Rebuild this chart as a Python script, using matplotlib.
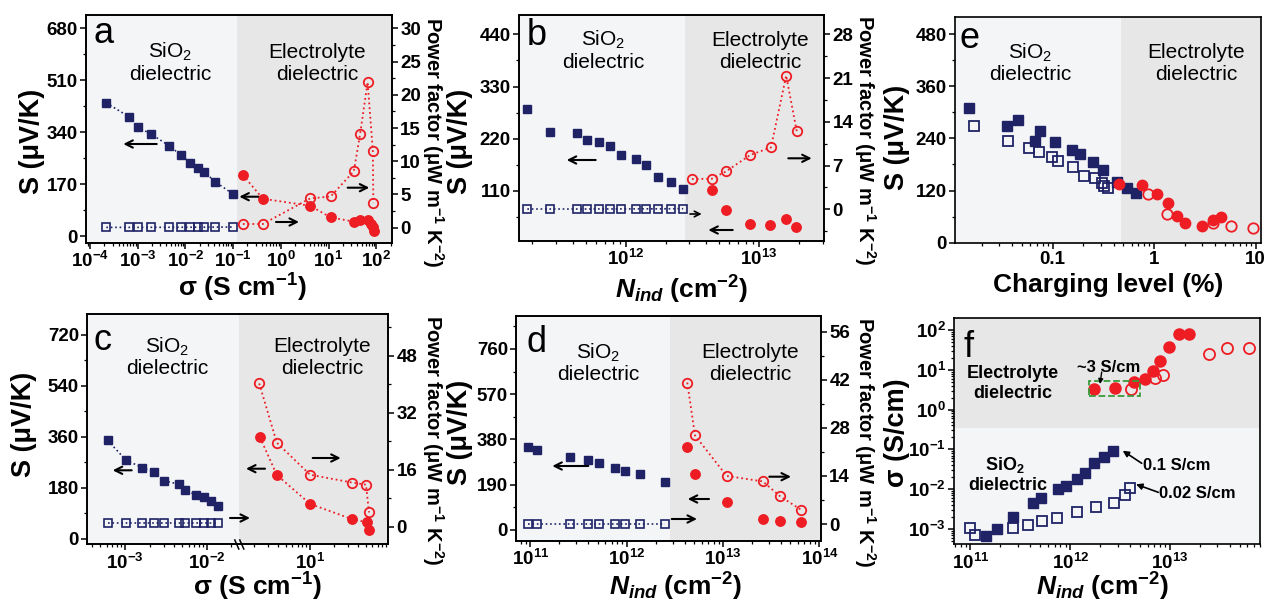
import numpy as np
import matplotlib.pyplot as plt
import matplotlib.ticker as mticker
from matplotlib.patches import Rectangle, FancyArrowPatch
from matplotlib.lines import Line2D

plt.rcParams['font.family'] = ['Liberation Sans', 'DejaVu Sans']
plt.rcParams['font.weight'] = 'bold'
plt.rcParams['axes.labelweight'] = 'bold'
plt.rcParams['mathtext.fontset'] = 'custom'
plt.rcParams['mathtext.rm'] = 'Liberation Sans:bold'
plt.rcParams['mathtext.it'] = 'Liberation Sans:italic:bold'
plt.rcParams['mathtext.default'] = 'regular'
plt.rcParams['axes.linewidth'] = 1.2

# ---- data ----
# (a) S and power factor vs conductivity
a_sq_x = [2.2e-4, 6.6e-4, 1.0e-3, 1.9e-3, 4.5e-3, 8.1e-3, 1.23e-2, 1.8e-2, 2.5e-2, 4.2e-2, 0.10]
a_sq_S = [436, 390, 356, 334, 296, 265, 240, 224, 209, 178, 137]
a_sq_PF = [0.05, 0.05, 0.05, 0.06, 0.06, 0.07, 0.07, 0.08, 0.08, 0.09, 0.10]
a_ci_x = [0.16, 0.42, 4.1, 11.1, 34, 46, 66, 78, 85, 90]
a_ci_S = [200, 122, 99, 61, 47, 52, 52, 39, 28, 17]
a_oc_x = [0.16, 0.42, 4.1, 11.1, 34, 46, 66, 85, 87]
a_oc_PF = [0.56, 0.56, 4.4, 4.7, 8.5, 14.1, 21.9, 11.6, 3.7]

# (b) S and power factor vs induced carrier density
b_sq_x = [1.83e11, 2.70e11, 4.29e11, 5.15e11, 6.34e11, 7.62e11, 9.23e11, 1.19e12, 1.42e12, 1.76e12, 2.19e12, 2.70e12]
b_sq_S = [283, 234, 233, 217, 214, 204, 186, 177, 165, 140, 128, 114]
b_sq_PF = [0.05, 0.05, 0.05, 0.05, 0.06, 0.06, 0.07, 0.07, 0.08, 0.08, 0.09, 0.10]
b_ci_x = [4.44e12, 5.70e12, 8.61e12, 1.22e13, 1.60e13, 1.91e13]
b_ci_S = [113, 71, 40, 39, 52, 34]
b_oc_x = [3.14e12, 4.44e12, 5.69e12, 8.61e12, 1.23e13, 1.60e13, 1.92e13]
b_oc_PF = [4.85, 4.9, 6.1, 8.7, 9.9, 21.4, 12.5]

# (c) second device, vs conductivity (broken axis)
c_sq_x = [6.14e-4, 1.03e-3, 1.63e-3, 2.29e-3, 2.98e-3, 4.62e-3, 5.47e-3, 7.46e-3, 9.27e-3, 1.13e-2, 1.39e-2]
c_sq_S = [347, 277, 251, 235, 205, 192, 171, 154, 146, 134, 117]
c_sq_PF = [0.9, 0.9, 0.9, 0.9, 0.9, 0.9, 0.9, 0.9, 0.9, 0.9, 0.9]
c_ci_x = [2.37, 3.84, 10.0, 33.5, 51.2, 54.7]
c_ci_S = [358, 225, 123, 69, 58, 32]
c_oc_x = [2.32, 3.84, 10.0, 33.2, 50.1, 54.7]
c_oc_PF = [40.2, 23.6, 14.6, 12.4, 11.8, 4.0]

# (d) second device, vs induced carrier density
d_sq_x = [9.35e10, 1.16e11, 2.57e11, 3.98e11, 5.14e11, 7.53e11, 9.51e11, 1.36e12, 2.49e12]
d_sq_S = [349, 335, 307, 293, 282, 261, 248, 233, 202]
d_sq_PF = [0.05, 0.05, 0.05, 0.05, 0.05, 0.05, 0.05, 0.05, 0.05]
d_ci_x = [4.25e12, 5.11e12, 1.09e13, 2.59e13, 3.90e13, 6.49e13]
d_ci_S = [348, 233, 118, 46, 37, 32]
d_oc_PF = [41.2, 25.8, 14.0, 12.4, 8.1, 4.1]

# (e) S vs charging level, both devices
e_sq_x = [0.01503, 0.03565, 0.04571, 0.06683, 0.07534, 0.1059, 0.1567, 0.1866, 0.2489, 0.3162, 0.4295, 0.5383, 0.6607]
e_sq_S = [311, 269, 282, 235, 257, 232, 213, 203, 186, 168, 140, 127, 114]
e_os_x = [0.01687, 0.03622, 0.05834, 0.07311, 0.09954, 0.1125, 0.1603, 0.2042, 0.2606, 0.3055, 0.3192, 0.3548]
e_os_S = [269, 234, 217, 208, 197, 188, 174, 154, 148, 138, 130, 125]
e_ci_x = [0.455, 0.762, 1.072, 1.374, 1.687, 2.004, 2.951, 3.837, 4.571]
e_ci_S = [135, 133, 112, 91, 62, 45, 39, 52, 59]
e_oc_x = [0.873, 1.334, 3.784, 5.702, 9.376]
e_oc_S = [111, 66, 45, 38, 33]

# (f) conductivity vs induced carrier density
f_sq_x = [1.44e11, 1.85e11, 2.65e11, 4.27e11, 5.07e11, 7.52e11, 9.14e11, 1.16e12, 1.40e12, 1.74e12, 2.19e12, 2.67e12]
f_sq_sig = [6.56e-4, 1.01e-3, 1.95e-3, 4.50e-3, 6.11e-3, 1.03e-2, 1.22e-2, 1.84e-2, 2.60e-2, 4.48e-2, 6.56e-2, 9.12e-2]
f_os_x = [9.89e10, 1.10e11, 2.65e11, 3.75e11, 5.18e11, 7.33e11, 1.18e12, 1.80e12, 2.75e12, 3.53e12, 3.95e12]
f_os_sig = [1.07e-3, 6.98e-4, 1.09e-3, 1.26e-3, 1.62e-3, 1.91e-3, 2.67e-3, 3.51e-3, 4.38e-3, 7.03e-3, 1.10e-2]
f_ci_x = [1.75e12, 2.79e12, 4.32e12, 5.62e12, 6.82e12, 8.05e12, 9.79e12, 1.23e13, 1.56e13]
f_ci_sig = [3.35, 3.49, 5.08, 6.04, 9.16, 16.4, 36.7, 79.4, 79.4]
f_oc_x = [4.03e12, 7.02e12, 8.63e12, 2.45e13, 3.70e13, 6.17e13]
f_oc_sig = [3.26, 6.11, 7.62, 25.2, 34.7, 36.3]

NAVY = '#1f2366'
RED = '#ee1d24'
LIGHT = '#f4f5f7'
GRAY = '#e7e7e7'

W, H = 1264, 609
fig = plt.figure(figsize=(W / 100, H / 100), dpi=100)


def fx(x):
    return x / W


def fy(y):
    return 1 - y / H


def add_ax(l, t, r, b):
    return fig.add_axes([l / W, 1 - b / H, (r - l) / W, (b - t) / H])


def style(ax):
    ax.tick_params(which='major', direction='out', length=4, width=1.1, labelsize=13.5, pad=2)
    ax.tick_params(which='minor', direction='out', length=2.2, width=0.9)


def logx(ax, lo, hi):
    ax.set_xscale('log')
    ax.set_xlim(lo, hi)
    ax.xaxis.set_major_locator(mticker.LogLocator(base=10, numticks=20))
    ax.xaxis.set_minor_locator(mticker.LogLocator(base=10, subs=np.arange(2, 10), numticks=30))


def lin_y(ax, lo, hi, step):
    ax.set_ylim(lo, hi)
    ax.yaxis.set_major_locator(mticker.MultipleLocator(step))
    ax.yaxis.set_minor_locator(mticker.MultipleLocator(step / 2))


def arrow(x0, x1, y0, y1=None, lw=1.5, style='->', scale=13):
    # arrows are placed in figure pixels so they sit above every axes
    if y1 is None:
        y1 = y0
    fig.add_artist(FancyArrowPatch((fx(x0), fy(y0)), (fx(x1), fy(y1)),
                                   transform=fig.transFigure, arrowstyle=style,
                                   lw=lw, color='black', mutation_scale=scale,
                                   shrinkA=0, shrinkB=0))


def region_labels(x1, y1, x2, y2, size=15, weight='normal'):
    fig.text(fx(x1), fy(y1), 'SiO$_2$', ha='center', va='center', fontsize=size, fontweight=weight)
    fig.text(fx(x1), fy(y1 + 22), 'dielectric', ha='center', va='center', fontsize=size, fontweight=weight)
    fig.text(fx(x2), fy(y2), 'Electrolyte', ha='center', va='center', fontsize=size, fontweight=weight)
    fig.text(fx(x2), fy(y2 + 22), 'dielectric', ha='center', va='center', fontsize=size, fontweight=weight)


def ylabel(ax, text, x, y, right=False, size=19.5):
    ax.set_ylabel(text, fontsize=size, rotation=270 if right else 90, va='center', ha='center')
    ax.yaxis.set_label_coords(fx(x), fy(y), transform=fig.transFigure)


def xlabel(ax, text, x, y, size=19):
    ax.set_xlabel(text, fontsize=size, va='center', ha='center')
    ax.xaxis.set_label_coords(fx(x), fy(y), transform=fig.transFigure)


def panel_letter(x, y, s):
    fig.text(fx(x), fy(y), s, fontsize=26, fontweight='normal', ha='left', va='baseline')


sq = dict(marker='s', ms=6, color=NAVY, lw=1.2)
osq = dict(marker='s', ms=6, color=NAVY, mfc='none', mec=NAVY, mew=1.2, lw=1.2)
ci = dict(marker='o', ms=6.8, color=RED, lw=1.3)
oci = dict(marker='o', ms=6.8, color=RED, mfc='none', mec=RED, mew=1.3, lw=1.3)

S_LABEL = 'S (μV/K)'
PF_LABEL = 'Power factor (μW m$^{-1}$ K$^{-2}$)'
SIG_LABEL = 'σ (S cm$^{-1}$)'
N_LABEL = '$\\mathit{N}_{\\mathit{ind}}$ (cm$^{-2}$)'

# ---- panel a ----
ax = add_ax(86, 15, 392, 243)
ax.set_facecolor(LIGHT)
logx(ax, 10 ** -4.084, 10 ** 2.331)
ax.axvspan(0.1225, 10 ** 2.331, color=GRAY, lw=0, zorder=0)
lin_y(ax, -22.9, 723.6, 170)
ax.plot(a_sq_x, a_sq_S, ls=':', **sq)
ax.plot(a_ci_x, a_ci_S, ls=':', **ci)
ax2 = ax.twinx()
lin_y(ax2, -2.3, 32.0, 5)
ax2.plot(a_sq_x, a_sq_PF, ls=':', **osq)
ax2.plot(a_oc_x, a_oc_PF, ls=':', **oci)
for a in (ax, ax2):
    style(a)
ylabel(ax, S_LABEL, 32, 141)
ylabel(ax2, PF_LABEL, 433, 142, right=True, size=14.5)
xlabel(ax, SIG_LABEL, 242, 288)
panel_letter(94, 43, 'a')
region_labels(170, 52, 317, 52)
arrow(156.7, 123.3, 144)
arrow(258.3, 239.3, 196.7)
arrow(276, 299, 222)
arrow(347.7, 369.3, 187.7)

# ---- panel b ----
ax = add_ax(519, 15, 824.3, 240.7)
ax.set_facecolor(LIGHT)
logx(ax, 10 ** 11.2, 10 ** 13.49)
ax.axvspan(2.79e12, 10 ** 13.49, color=GRAY, lw=0, zorder=0)
lin_y(ax, 5.3, 480.6, 110)
ax.plot(b_sq_x, b_sq_S, ls='none', **sq)
ax.plot(b_ci_x, b_ci_S, ls='none', **ci)
ax2 = ax.twinx()
lin_y(ax2, -5.02, 31.1, 7)
ax2.plot(b_sq_x, b_sq_PF, ls=':', **osq)
ax2.plot(b_oc_x, b_oc_PF, ls=':', **oci)
for a in (ax, ax2):
    style(a)
ylabel(ax, S_LABEL, 460, 141)
ylabel(ax2, PF_LABEL, 865, 140, right=True, size=14.5)
xlabel(ax, N_LABEL, 682, 290)
panel_letter(527, 45, 'b')
region_labels(603, 40, 760, 40)
arrow(595.7, 566.7, 160)
arrow(690, 701.7, 214, lw=1.2, scale=10)
arrow(732.7, 708.3, 230)
arrow(788.3, 811.7, 158.3)

# ---- panel c (broken x axis) ----
axL = add_ax(87.3, 314, 239.3, 544.3)
axR = add_ax(239.3, 314, 388.3, 544.3)
axL.set_facecolor(LIGHT)
axR.set_facecolor(GRAY)
logx(axL, 10 ** -3.461, 10 ** -1.601)
logx(axR, 10 ** 0.116, 10 ** 1.979)
for a in (axL, axR):
    lin_y(a, -19.8, 793, 180)
axL.spines['right'].set_visible(False)
axR.spines['left'].set_visible(False)
axL.plot(c_sq_x, c_sq_S, ls=':', **sq)
axR.plot(c_ci_x, c_ci_S, ls=':', **ci)
axL2 = axL.twinx()
axR2 = axR.twinx()
for a in (axL2, axR2):
    lin_y(a, -4.94, 59.7, 16)
axL2.spines['right'].set_visible(False)
axR2.spines['left'].set_visible(False)
axL2.plot(c_sq_x, c_sq_PF, ls=':', **osq)
axR2.plot(c_oc_x, c_oc_PF, ls=':', **oci)
for a in (axL, axR, axL2, axR2):
    style(a)
axR.tick_params(which='both', left=False, labelleft=False)
axL2.tick_params(which='both', right=False, labelright=False)
ylabel(axL, S_LABEL, 24, 424)
ylabel(axR2, PF_LABEL, 433, 440, right=True, size=14.5)
xlabel(axL, SIG_LABEL, 257, 587)
# break marks on the x axis
for dx in (-2.5, 2.5):
    fig.add_artist(Line2D([fx(239.3 + dx - 2), fx(239.3 + dx + 2)], [fy(540), fy(549)],
                          transform=fig.transFigure, color='black', lw=1.1))
panel_letter(94, 350, 'c')
region_labels(167, 347, 322, 347)
arrow(131.7, 112.7, 470.3)
arrow(230, 250, 518)
arrow(265, 246, 468.7)
arrow(312.7, 340.7, 458)

# ---- panel d ----
ax = add_ax(516.3, 315.7, 821, 540.7)
ax.set_facecolor(LIGHT)
logx(ax, 10 ** 10.853, 10 ** 14.017)
ax.axvspan(10 ** 12.449, 10 ** 14.017, color=GRAY, lw=0, zorder=0)
lin_y(ax, -46, 900, 190)
ax.plot(d_sq_x, d_sq_S, ls='none', **sq)
ax.plot(d_ci_x, d_ci_S, ls='none', **ci)
ax2 = ax.twinx()
lin_y(ax2, -4.86, 60.66, 14)
ax2.plot(d_sq_x, d_sq_PF, ls=':', **osq)
ax2.plot(d_ci_x, d_oc_PF, ls=':', **oci)
for a in (ax, ax2):
    style(a)
ylabel(ax, S_LABEL, 460, 432)
ylabel(ax2, PF_LABEL, 865, 442, right=True, size=14.5)
xlabel(ax, N_LABEL, 676, 587)
panel_letter(527, 352, 'd')
region_labels(598, 353, 750, 352)
arrow(588.3, 552.3, 466)
arrow(671.7, 697, 519)
arrow(709, 687.7, 499)
arrow(769.3, 791, 476.7)

# ---- panel e ----
ax = add_ax(955, 16.7, 1261, 242.7)
ax.set_facecolor(LIGHT)
logx(ax, 10 ** -1.961, 10 ** 1.054)
ax.xaxis.set_major_formatter(mticker.FuncFormatter(lambda v, p: f'{v:g}'))
ax.axvspan(0.473, 10 ** 1.054, color=GRAY, lw=0, zorder=0)
lin_y(ax, 0, 520, 120)
ax.plot(e_sq_x, e_sq_S, ls='none', marker='s', ms=7, color=NAVY)
ax.plot(e_os_x, e_os_S, ls='none', marker='s', ms=7, mfc='none', mec=NAVY, mew=1.3)
ax.plot(e_ci_x, e_ci_S, ls='none', marker='o', ms=7.5, color=RED)
ax.plot(e_oc_x, e_oc_S, ls='none', marker='o', ms=7.5, mfc='none', mec=RED, mew=1.3)
style(ax)
ylabel(ax, S_LABEL, 897, 137)
xlabel(ax, 'Charging level (%)', 1108, 285)
panel_letter(959, 48, 'e')
region_labels(1030, 53, 1196, 53)

# ---- panel f ----
ax = add_ax(954.3, 318.3, 1260, 544.3)
ax.set_facecolor(LIGHT)
logx(ax, 10 ** 10.838, 10 ** 13.904)
ax.set_yscale('log')
ax.set_ylim(10 ** -3.384, 10 ** 2.294)
ax.yaxis.set_major_locator(mticker.LogLocator(base=10, numticks=20))
ax.yaxis.set_minor_locator(mticker.LogLocator(base=10, subs=np.arange(2, 10), numticks=30))
ax.axhspan(10 ** -0.45, 10 ** 2.294, color=GRAY, lw=0, zorder=0)
ax.plot(f_sq_x, f_sq_sig, ls='none', marker='s', ms=7.5, color=NAVY)
ax.plot(f_os_x, f_os_sig, ls='none', marker='s', ms=7.5, mfc='none', mec=NAVY, mew=1.3)
ax.plot(f_ci_x, f_ci_sig, ls='none', marker='o', ms=8, color=RED)
ax.plot(f_oc_x, f_oc_sig, ls='none', marker='o', ms=8, mfc='none', mec=RED, mew=1.3)
ax.add_patch(Rectangle((10 ** 12.192, 10 ** 0.342), 10 ** 12.70 - 10 ** 12.192, 10 ** 0.726 - 10 ** 0.342,
                       fill=False, ec='#3a9a3a', ls='--', lw=1.3, zorder=3))
style(ax)
ylabel(ax, 'σ (S/cm)', 897, 433)
xlabel(ax, N_LABEL, 1103, 587)
panel_letter(964, 357, 'f')
fig.text(fx(1013), fy(373), 'Electrolyte', ha='center', va='center', fontsize=13)
fig.text(fx(1013), fy(394), 'dielectric', ha='center', va='center', fontsize=13)
fig.text(fx(1005), fy(465), 'SiO$_2$', ha='center', va='center', fontsize=13)
fig.text(fx(1008), fy(485), 'dielectric', ha='center', va='center', fontsize=13)
fig.text(fx(1109), fy(367), '~3 S/cm', ha='center', va='center', fontsize=12)
fig.text(fx(1143), fy(465), '0.1 S/cm', ha='left', va='center', fontsize=12)
fig.text(fx(1159), fy(493), '0.02 S/cm', ha='left', va='center', fontsize=12)
arrow(1141.7, 1122.7, 463.3, 450.7, lw=1.2, style='-|>', scale=9)
arrow(1158.3, 1136, 492.3, 484.3, lw=1.2, style='-|>', scale=9)
arrow(1101.7, 1100, 372, 384, lw=1.0, style='-|>', scale=7)

fig.savefig('out.png', dpi=100)
